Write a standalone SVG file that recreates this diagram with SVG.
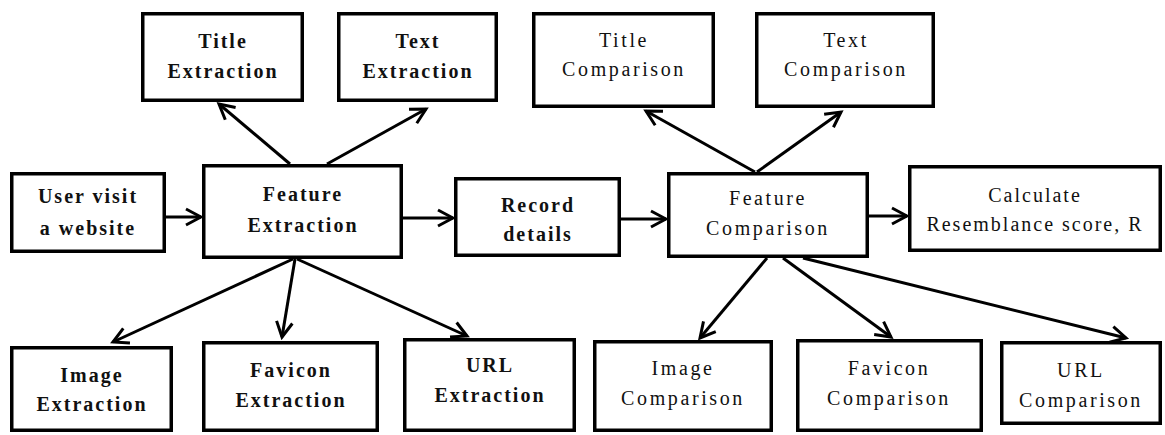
<svg xmlns="http://www.w3.org/2000/svg" width="1165" height="435" viewBox="0 0 1165 435">
<defs>
<style>
.box{fill:#fff;stroke:#000;stroke-width:3.5}
.t{font-family:"Liberation Serif","Times New Roman",serif;font-size:20px;letter-spacing:2.6px;text-anchor:middle;fill:#111}
.b{font-weight:bold;letter-spacing:2px}
.c{stroke:#000;stroke-width:3;fill:none;marker-end:url(#arr)}
</style>
<marker id="arr" viewBox="0 0 20 20" refX="17" refY="10" markerWidth="20" markerHeight="20" markerUnits="userSpaceOnUse" orient="auto">
<path d="M2,2 L17,10 L2,18" fill="none" stroke="#000" stroke-width="3" stroke-linejoin="miter"/>
</marker>
</defs>
<rect width="1165" height="435" fill="#fff"/>
<g id="connectors">
<line class="c" x1="166" y1="217" x2="201" y2="217"/>
<line class="c" x1="403" y1="218" x2="453" y2="218"/>
<line class="c" x1="621" y1="219" x2="666" y2="219"/>
<line class="c" x1="869" y1="216" x2="907" y2="216"/>
<line class="c" x1="290" y1="164" x2="219" y2="104"/>
<line class="c" x1="327" y1="164" x2="426" y2="109"/>
<line class="c" x1="755" y1="172" x2="646" y2="111"/>
<line class="c" x1="757" y1="172" x2="841" y2="112"/>
<line class="c" x1="293" y1="259" x2="113" y2="342"/>
<line class="c" x1="295" y1="259" x2="282" y2="337"/>
<line class="c" x1="297" y1="259" x2="467" y2="336"/>
<line class="c" x1="767" y1="258" x2="700" y2="338"/>
<line class="c" x1="783" y1="258" x2="891" y2="337"/>
<line class="c" x1="803" y1="258" x2="1126" y2="338"/>
</g>
<g id="title-extraction"><rect class="box" x="142.75" y="13.75" width="159.5" height="86.5"/><text class="t b" x="223" y="48">Title</text><text class="t b" x="223" y="78">Extraction</text></g>
<g id="text-extraction"><rect class="box" x="338.75" y="13.75" width="157.5" height="86.5"/><text class="t b" x="418" y="48">Text</text><text class="t b" x="418" y="78">Extraction</text></g>
<g id="title-comparison"><rect class="box" x="533.75" y="13.75" width="179.5" height="92.5"/><text class="t" x="624" y="47">Title</text><text class="t" x="624" y="76">Comparison</text></g>
<g id="text-comparison"><rect class="box" x="756.75" y="13.75" width="176.5" height="92.5"/><text class="t" x="846" y="47">Text</text><text class="t" x="846" y="76">Comparison</text></g>
<g id="user-visit"><rect class="box" x="11.75" y="173.75" width="152.5" height="77.5"/><text class="t b" x="88" y="203">User visit</text><text class="t b" x="88" y="235">a website</text></g>
<g id="feature-extraction"><rect class="box" x="203.75" y="165.75" width="197.5" height="91.5"/><text class="t b" x="303" y="201">Feature</text><text class="t b" x="303" y="232">Extraction</text></g>
<g id="record-details"><rect class="box" x="455.75" y="178.75" width="163.5" height="76.5"/><text class="t b" x="538" y="212">Record</text><text class="t b" x="538" y="241">details</text></g>
<g id="feature-comparison"><rect class="box" x="668.75" y="173.75" width="198.5" height="82.5"/><text class="t" x="768" y="205">Feature</text><text class="t" x="768" y="235">Comparison</text></g>
<g id="calculate"><rect class="box" x="909.75" y="166.75" width="250.5" height="83.5"/><text class="t" x="1035" y="202" style="letter-spacing:2px">Calculate</text><text class="t" x="1035" y="231" style="letter-spacing:2px">Resemblance score, R</text></g>
<g id="image-extraction"><rect class="box" x="11.75" y="347.75" width="159.5" height="82.5"/><text class="t b" x="92" y="382">Image</text><text class="t b" x="92" y="411">Extraction</text></g>
<g id="favicon-extraction"><rect class="box" x="203.75" y="342.75" width="173.5" height="87.5"/><text class="t b" x="291" y="377">Favicon</text><text class="t b" x="291" y="407">Extraction</text></g>
<g id="url-extraction"><rect class="box" x="404.75" y="339.75" width="169.5" height="90.5"/><text class="t b" x="490" y="372">URL</text><text class="t b" x="490" y="402">Extraction</text></g>
<g id="image-comparison"><rect class="box" x="594.75" y="341.75" width="176.5" height="88.5"/><text class="t" x="683" y="375">Image</text><text class="t" x="683" y="405">Comparison</text></g>
<g id="favicon-comparison"><rect class="box" x="797.75" y="340.75" width="183.5" height="89.5"/><text class="t" x="889" y="375">Favicon</text><text class="t" x="889" y="405">Comparison</text></g>
<g id="url-comparison"><rect class="box" x="1001.75" y="342.75" width="158.5" height="80.5"/><text class="t" x="1081" y="377">URL</text><text class="t" x="1081" y="407">Comparison</text></g>
</svg>
